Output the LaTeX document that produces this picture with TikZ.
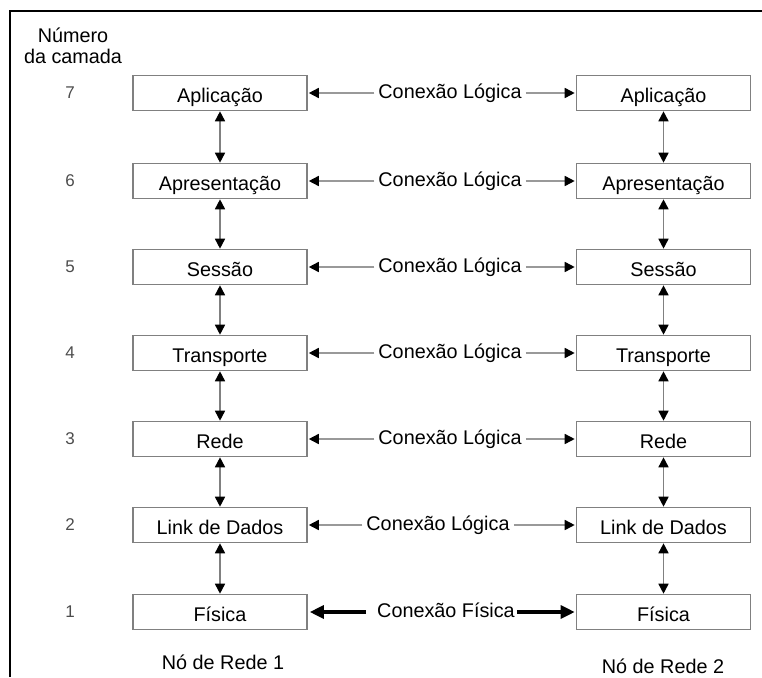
\documentclass[tikz,border=0pt]{standalone}
\usepackage{fontspec}
\setmainfont{Liberation Sans}
\usetikzlibrary{arrows.meta}
\begin{document}
\begin{tikzpicture}[x=1pt,y=-1pt,
  layerbox/.style={draw=black!50, line width=1.6pt, minimum width=174pt, minimum height=35pt, inner sep=0pt, text height=18.4pt, text depth=0pt, font=\fontsize{19.8}{22}\selectfont},
  num/.style={text=black!70, font=\fontsize{17}{19}\selectfont},
  conn/.style={fill=white, inner xsep=4pt, inner ysep=3pt, text height=10pt, text depth=0pt, font=\fontsize{19.8}{22}\selectfont},
  lbl/.style={font=\fontsize{19.8}{22}\selectfont},
  vert/.style={draw=black!50, line width=1.6pt, {Triangle[length=10pt,width=10pt,color=black]}-{Triangle[length=10pt,width=10pt,color=black]}},
  logic/.style={draw=black!40, line width=1.6pt, -{Triangle[length=10pt,width=10pt,color=black]}},
  phys/.style={draw=black, line width=3.2pt, -{Triangle[length=14pt,width=13pt,color=black]}}
]
\useasboundingbox (0,0) rectangle (762,677);
\draw[line width=1.5pt] (10,677) -- (10,11) -- (762,11);

\node[lbl, align=center] (hdr) at (73,46) {Número\\[-1pt]da camada};

\foreach \n/\y/\t in {7/93/Aplicação, 6/181/Apresentação, 5/267/Sessão, 4/353/Transporte, 3/439/Rede, 2/525/Link de Dados, 1/612/Física}{
  \node[num] (n\n) at (70,\y) {\n};
  \node[layerbox] (L\n) at (220,\y) {\t};
  \node[layerbox] (R\n) at (663.5,\y) {\t};
}

\foreach \n/\x/\y in {7/450/93, 6/450/181, 5/450/267, 4/450/353, 3/450/439, 2/438/525}{
  \node[conn] (c\n) at (\x,\y) {Conexão Lógica};
  \draw[logic] (c\n.west) -- ([xshift=1pt]L\n.east);
  \draw[logic] (c\n.east) -- ([xshift=-1pt]R\n.west);
}
\node[conn, inner xsep=2pt] (c1) at (446,612) {Conexão Física};
\draw[phys] ([xshift=-9pt]c1.west) -- ([xshift=2pt]L1.east);
\draw[phys] (c1.east) -- ([xshift=-1pt]R1.west);

\foreach \a/\b in {7/6, 6/5, 5/4, 4/3, 3/2, 2/1}{
  \draw[vert] (L\a.south) -- (L\b.north);
  \draw[vert] (R\a.south) -- (R\b.north);
}

\node[lbl] (node1) at (223,662) {Nó de Rede 1};
\node[lbl] (node2) at (663,666) {Nó de Rede 2};
\end{tikzpicture}
\end{document}
